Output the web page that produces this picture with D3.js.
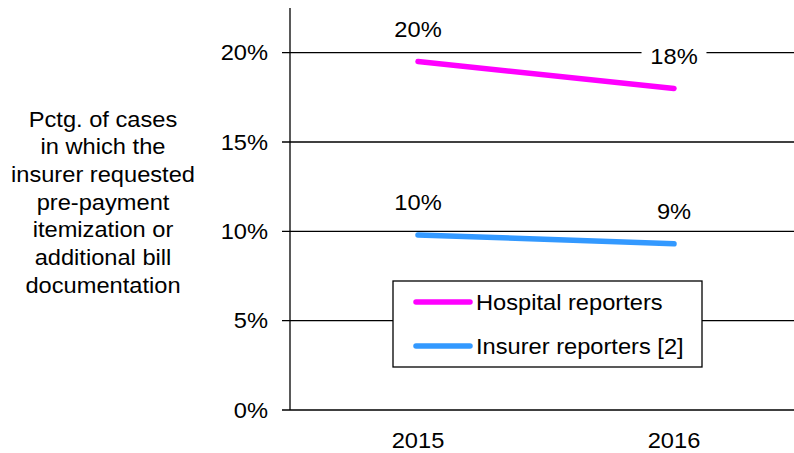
<!DOCTYPE html>
<html>
<head>
<meta charset="utf-8">
<script src="https://cdn.jsdelivr.net/npm/d3@7"></script>
<style>
  body { margin: 0; background: #fff; }
  svg { display: block; font-family: Arial, "Liberation Sans", sans-serif; }
</style>
</head>
<body>
<div id="chart"></div>
<script>
const years = ["2015", "2016"];
const hospitalValues = [19.5, 18.0];
const insurerValues = [9.8, 9.3];
const yTicks = [0, 5, 10, 15, 20];
const seriesNames = ["Hospital reporters", "Insurer reporters [2]"];
const seriesColors = ["#FF00FF", "#3399FF"];
const yTitle = ["Pctg. of cases", "in which the", "insurer requested", "pre-payment", "itemization or", "additional bill", "documentation"];

const width = 794, height = 453;
const plotLeft = 290, plotTop = 8, plotBottom = 410;
const fontSize = 21.5, stretch = 1.1; // text in the original is a bit wide

const svg = d3.select("#chart").append("svg")
  .attr("width", width)
  .attr("height", height);

const x = d3.scalePoint().domain(years).range([plotLeft, 802]).padding(0.5);
const y = d3.scaleLinear().domain([0, 22.5]).range([plotBottom, plotTop]);

const place = (px, py) => `translate(${px},${py}) scale(${stretch},1)`;

// gridlines
svg.append("g").selectAll("line")
  .data(yTicks)
  .join("line")
  .attr("x1", plotLeft - 8).attr("x2", width)
  .attr("y1", d => y(d)).attr("y2", d => y(d))
  .attr("stroke", "#000").attr("stroke-width", 1.3);

// y axis line
svg.append("line")
  .attr("x1", plotLeft).attr("x2", plotLeft)
  .attr("y1", plotTop).attr("y2", plotBottom)
  .attr("stroke", "#000").attr("stroke-width", 1.3);

// y tick labels
svg.append("g").selectAll("text")
  .data(yTicks)
  .join("text")
  .attr("transform", d => place(268, y(d)))
  .attr("dy", "0.35em")
  .attr("text-anchor", "end")
  .attr("font-size", fontSize)
  .text(d => d + "%");

// x tick labels
svg.append("g").selectAll("text")
  .data(years)
  .join("text")
  .attr("transform", d => place(x(d), 440))
  .attr("dy", "0.35em")
  .attr("text-anchor", "middle")
  .attr("font-size", fontSize)
  .text(d => d);

// y title
svg.append("text")
  .attr("transform", place(103, 0))
  .attr("text-anchor", "middle")
  .attr("font-size", fontSize)
  .selectAll("tspan")
  .data(yTitle)
  .join("tspan")
  .attr("x", 0)
  .attr("y", (d, i) => 119 + i * 27.7)
  .attr("dy", "0.35em")
  .text(d => d);

const series = [hospitalValues, insurerValues];
const line = d3.line().x((d, i) => x(years[i])).y(d => y(d));

series.forEach((vals, s) => {
  svg.append("path")
    .attr("d", line(vals))
    .attr("fill", "none")
    .attr("stroke", seriesColors[s])
    .attr("stroke-width", 5.5)
    .attr("stroke-linecap", "round");

  const g = svg.append("g").selectAll("g")
    .data(vals)
    .join("g")
    .attr("transform", (d, i) => place(x(years[i]), y(d) - 32));

  const bg = g.append("rect").attr("fill", "#fff");

  const t = g.append("text")
    .attr("text-anchor", "middle")
    .attr("dy", "0.35em")
    .attr("font-size", fontSize)
    .text(d => Math.round(d) + "%");

  t.each(function(d, i) {
    const b = this.getBBox();
    d3.select(bg.nodes()[i])
      .attr("x", b.x - 8).attr("width", b.width + 16)
      .attr("y", b.y - 1).attr("height", b.height + 2);
  });
});

// legend
const lg = svg.append("g");
lg.append("rect")
  .attr("x", 393).attr("y", 281)
  .attr("width", 309).attr("height", 86)
  .attr("fill", "#fff")
  .attr("stroke", "#000").attr("stroke-width", 1.3);

const items = lg.selectAll("g")
  .data(seriesNames)
  .join("g")
  .attr("transform", (d, i) => `translate(0,${302 + i * 44})`);

items.append("line")
  .attr("x1", 416).attr("x2", 470)
  .attr("stroke", (d, i) => seriesColors[i])
  .attr("stroke-width", 5.5)
  .attr("stroke-linecap", "round");

items.append("text")
  .attr("transform", place(476, 0))
  .attr("dy", "0.35em")
  .attr("font-size", fontSize)
  .text(d => d);
</script>
</body>
</html>
